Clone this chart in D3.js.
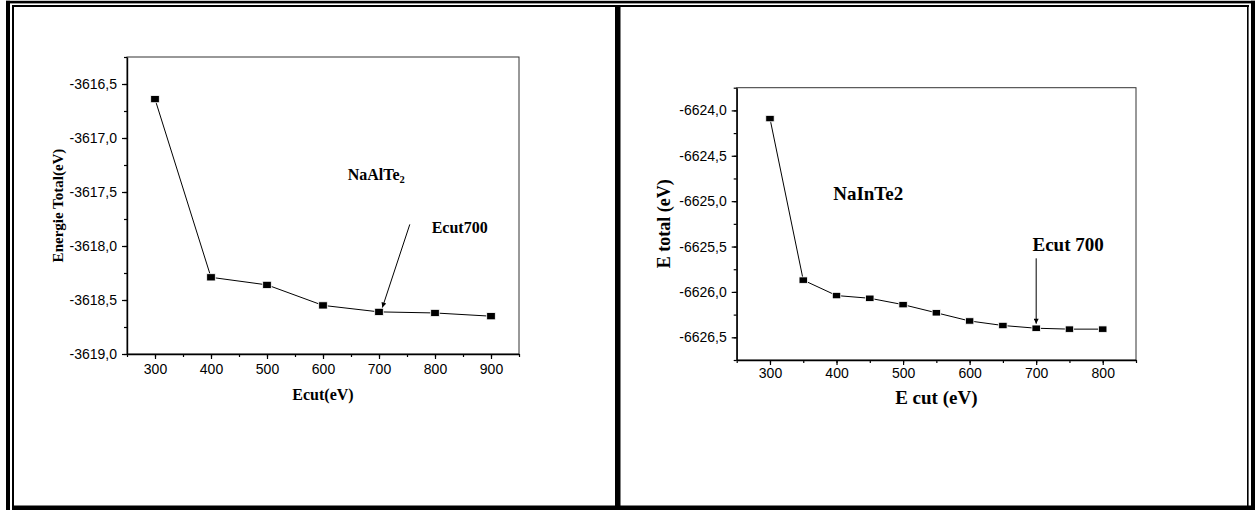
<!DOCTYPE html>
<html>
<head>
<meta charset="utf-8">
<script src="https://cdn.jsdelivr.net/npm/d3@7"></script>
<style>
  html, body { margin: 0; padding: 0; background: #fff; }
  svg { display: block; }
  .tick text { font-family: "Liberation Sans", Arial, sans-serif; font-size: 14px; fill: #000; }
  .lbl { font-family: "Liberation Serif", "Times New Roman", serif; font-weight: bold; fill: #000; }
</style>
</head>
<body>
<svg id="fig" width="1255" height="510"></svg>
<script>
// NaAlTe2: total energy vs cut-off energy
const alEcut   = [300, 400, 500, 600, 700, 800, 900];
const alEnergy = [-3616.64, -3618.29, -3618.36, -3618.55, -3618.61, -3618.62, -3618.65];
const alXTicks = [300, 400, 500, 600, 700, 800, 900];
const alYTicks = [-3619.0, -3618.5, -3618.0, -3617.5, -3617.0, -3616.5];

// NaInTe2: total energy vs cut-off energy
const inEcut   = [300, 350, 400, 450, 500, 550, 600, 650, 700, 750, 800];
const inEnergy = [-6624.09, -6625.87, -6626.04, -6626.07, -6626.14, -6626.23, -6626.32, -6626.37, -6626.40, -6626.41, -6626.41];
const inXTicks = [300, 400, 500, 600, 700, 800];
const inYTicks = [-6626.5, -6626.0, -6625.5, -6625.0, -6624.5, -6624.0];

// Decimal comma, plain hyphen minus
const fmt = d3.formatLocale({ decimal: ",", thousands: ".", grouping: [3], currency: ["", ""], minus: "-" }).format(".1f");

const svg = d3.select("#fig");

// Page border (thick/thin double rule) and column divider
const border = svg.append("g").attr("fill", "#000");
border.append("rect").attr("x", 6).attr("y", 0.8).attr("width", 1249).attr("height", 2.6);
border.append("rect").attr("x", 12).attr("y", 5).attr("width", 1237).attr("height", 2);
border.append("rect").attr("x", 6).attr("y", 0.8).attr("width", 4).attr("height", 510);
border.append("rect").attr("x", 12).attr("y", 5).attr("width", 2).attr("height", 505);
border.append("rect").attr("x", 12).attr("y", 505.5).attr("width", 1243).attr("height", 4.5);
border.append("rect").attr("x", 1251).attr("y", 0.8).attr("width", 4).attr("height", 510);
border.append("rect").attr("x", 1247).attr("y", 5).attr("width", 1.6).attr("height", 505);
border.append("rect").attr("x", 615).attr("y", 5).attr("width", 5.5).attr("height", 505);

// Arrow head
svg.append("defs").append("marker")
  .attr("id", "head")
  .attr("viewBox", "0 0 10 10")
  .attr("refX", 10).attr("refY", 5)
  .attr("markerUnits", "userSpaceOnUse")
  .attr("markerWidth", 8).attr("markerHeight", 5)
  .attr("orient", "auto")
  .append("path").attr("d", "M0,0 L10,5 L0,10 Z").attr("fill", "#000");

function panel(cfg) {
  const g = svg.append("g");
  const x = d3.scaleLinear().domain(cfg.xDomain).range([cfg.left, cfg.right]);
  const y = d3.scaleLinear().domain(cfg.yDomain).range([cfg.bottom, cfg.top]);

  // plot frame
  g.append("rect")
    .attr("x", cfg.left).attr("y", cfg.top)
    .attr("width", cfg.right - cfg.left).attr("height", cfg.bottom - cfg.top)
    .attr("fill", "none").attr("stroke", "#333").attr("stroke-width", 1);

  // minor ticks
  const xMinor = d3.range(cfg.xDomain[0], cfg.xDomain[1] + 1e-6, cfg.xMinorStep);
  const yMinor = d3.range(cfg.yDomain[0], cfg.yDomain[1] + 1e-6, cfg.yMinorStep);
  g.append("g").attr("transform", `translate(0,${cfg.bottom})`)
    .call(d3.axisBottom(x).tickValues(xMinor).tickSize(3).tickFormat(""))
    .call(s => s.select(".domain").remove())
    .call(s => s.selectAll("line").attr("stroke-width", 1.2));
  g.append("g").attr("transform", `translate(${cfg.left},0)`)
    .call(d3.axisLeft(y).tickValues(yMinor).tickSize(3).tickFormat(""))
    .call(s => s.select(".domain").remove())
    .call(s => s.selectAll("line").attr("stroke-width", 1.2));

  // major axes
  g.append("g").attr("transform", `translate(0,${cfg.bottom})`)
    .call(d3.axisBottom(x).tickValues(cfg.xTicks).tickSize(5).tickSizeOuter(0).tickPadding(cfg.xPad))
    .call(s => s.select(".domain").attr("stroke-width", 1.4))
    .call(s => s.selectAll(".tick line").attr("stroke-width", 1.2));
  g.append("g").attr("transform", `translate(${cfg.left},0)`)
    .call(d3.axisLeft(y).tickValues(cfg.yTicks).tickSize(5).tickSizeOuter(0).tickPadding(5).tickFormat(fmt))
    .call(s => s.select(".domain").attr("stroke-width", 1.4))
    .call(s => s.selectAll(".tick line").attr("stroke-width", 1.2));
  g.selectAll(".tick text").attr("font-family", null).attr("font-size", null);

  // data line and square markers
  const pts = cfg.xs.map((v, i) => [v, cfg.ys[i]]);
  g.append("path")
    .datum(pts)
    .attr("fill", "none").attr("stroke", "#000").attr("stroke-width", 1)
    .attr("d", d3.line().x(d => x(d[0])).y(d => y(d[1])));
  g.selectAll("rect.pt").data(pts).join("rect").attr("class", "pt")
    .attr("x", d => x(d[0]) - cfg.mw / 2).attr("y", d => y(d[1]) - cfg.mh / 2)
    .attr("width", cfg.mw).attr("height", cfg.mh)
    .attr("fill", "#000").attr("stroke", "#fff").attr("stroke-width", 0.8);

  // annotation arrow
  g.append("line")
    .attr("x1", x(cfg.arrow[0][0])).attr("y1", y(cfg.arrow[0][1]))
    .attr("x2", x(cfg.arrow[1][0])).attr("y2", y(cfg.arrow[1][1]))
    .attr("stroke", "#000").attr("stroke-width", 1)
    .attr("marker-end", "url(#head)");

  // axis titles
  g.append("text").attr("class", "lbl")
    .attr("x", (cfg.left + cfg.right) / 2).attr("y", cfg.xTitleY)
    .attr("text-anchor", "middle").attr("font-size", cfg.titleSize)
    .text(cfg.xTitle);
  g.append("text").attr("class", "lbl")
    .attr("transform", `translate(${cfg.yTitleX},${(cfg.top + cfg.bottom) / 2}) rotate(-90)`)
    .attr("text-anchor", "middle").attr("font-size", cfg.yTitleSize)
    .text(cfg.yTitle);

  return { g, x, y };
}

// Left panel: NaAlTe2
const L = panel({
  xs: alEcut, ys: alEnergy, xTicks: alXTicks, yTicks: alYTicks,
  xDomain: [250, 950], yDomain: [-3619.0, -3616.25],
  xMinorStep: 50, yMinorStep: 0.25,
  left: 127, right: 519, top: 57, bottom: 354,
  xPad: 5.5, mw: 8.6, mh: 7.2,
  arrow: [[755, -3617.80], [706, -3618.57]],
  xTitle: "Ecut(eV)", xTitleY: 400, titleSize: 16,
  yTitle: "Energie Total(eV)", yTitleX: 63, yTitleSize: 15
});
const alName = L.g.append("text").attr("class", "lbl").attr("font-size", 16)
  .attr("x", L.x(644)).attr("y", L.y(-3617.39));
alName.append("tspan").text("NaAlTe");
alName.append("tspan").attr("font-size", 10.5).attr("dy", 3).text("2");
L.g.append("text").attr("class", "lbl").attr("font-size", 16)
  .attr("x", L.x(794)).attr("y", L.y(-3617.88)).text("Ecut700");

// Right panel: NaInTe2
const R = panel({
  xs: inEcut, ys: inEnergy, xTicks: inXTicks, yTicks: inYTicks,
  xDomain: [250, 850], yDomain: [-6626.75, -6623.75],
  xMinorStep: 50, yMinorStep: 0.25,
  left: 736.7, right: 1136, top: 87.7, bottom: 360,
  xPad: 3.5, mw: 8.4, mh: 6.4,
  arrow: [[700, -6625.63], [700, -6626.35]],
  xTitle: "E cut (eV)", xTitleY: 404, titleSize: 19,
  yTitle: "E total (eV)", yTitleX: 670, yTitleSize: 18
});
R.g.append("text").attr("class", "lbl").attr("font-size", 19)
  .attr("x", R.x(395)).attr("y", R.y(-6624.99)).text("NaInTe2");
R.g.append("text").attr("class", "lbl").attr("font-size", 19)
  .attr("x", R.x(694.5)).attr("y", R.y(-6625.55)).text("Ecut 700");
</script>
</body>
</html>
